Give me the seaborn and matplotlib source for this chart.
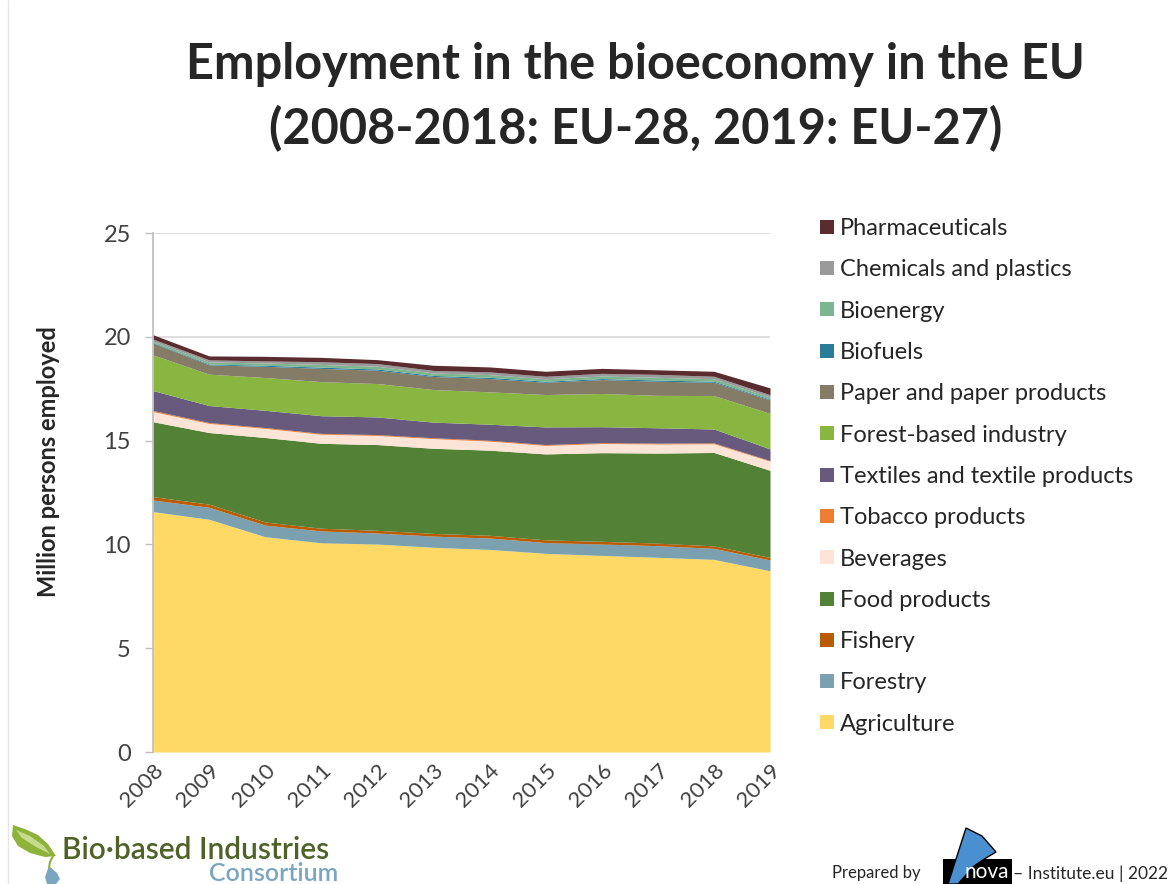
import matplotlib
matplotlib.use("Agg")
import matplotlib.pyplot as plt
from matplotlib.lines import Line2D
from matplotlib.patches import Polygon, Rectangle
import seaborn as sns

# Employment in the EU bioeconomy, million persons per sector
years = list(range(2008, 2020))
agriculture = [11.58, 11.21, 10.37, 10.08, 10.02, 9.86, 9.76, 9.57, 9.47, 9.38, 9.28, 8.73]
forestry = [0.56, 0.58, 0.56, 0.57, 0.53, 0.54, 0.55, 0.52, 0.55, 0.56, 0.53, 0.52]
fishery = [0.16, 0.15, 0.15, 0.13, 0.13, 0.13, 0.13, 0.13, 0.13, 0.12, 0.12, 0.12]
food_products = [3.61, 3.45, 4.07, 4.09, 4.13, 4.10, 4.10, 4.14, 4.27, 4.34, 4.50, 4.20]
beverages = [0.49, 0.44, 0.44, 0.44, 0.44, 0.47, 0.44, 0.41, 0.44, 0.44, 0.42, 0.44]
tobacco = [0.05, 0.04, 0.04, 0.04, 0.04, 0.04, 0.04, 0.04, 0.04, 0.04, 0.04, 0.03]
textiles = [0.96, 0.82, 0.83, 0.85, 0.85, 0.75, 0.77, 0.85, 0.77, 0.74, 0.67, 0.56]
forest_based = [1.72, 1.51, 1.58, 1.64, 1.61, 1.57, 1.56, 1.56, 1.60, 1.56, 1.61, 1.71]
paper = [0.57, 0.45, 0.54, 0.64, 0.64, 0.63, 0.64, 0.59, 0.67, 0.68, 0.64, 0.65]
biofuels = [0.03, 0.04, 0.05, 0.06, 0.06, 0.05, 0.06, 0.05, 0.05, 0.06, 0.05, 0.04]
bioenergy = [0.07, 0.10, 0.11, 0.13, 0.13, 0.12, 0.13, 0.12, 0.12, 0.13, 0.12, 0.10]
chemicals = [0.09, 0.10, 0.10, 0.13, 0.13, 0.12, 0.13, 0.12, 0.13, 0.14, 0.12, 0.11]
pharma = [0.21, 0.19, 0.22, 0.21, 0.19, 0.25, 0.24, 0.24, 0.24, 0.22, 0.24, 0.33]

sectors = ["Agriculture", "Forestry", "Fishery", "Food products", "Beverages",
           "Tobacco products", "Textiles and textile products", "Forest-based industry",
           "Paper and paper products", "Biofuels", "Bioenergy", "Chemicals and plastics",
           "Pharmaceuticals"]
series = [agriculture, forestry, fishery, food_products, beverages, tobacco, textiles,
          forest_based, paper, biofuels, bioenergy, chemicals, pharma]
colors = ["#FFD966", "#7BA0B0", "#B85C00", "#538135", "#FCE4D6", "#ED7D31", "#675A7D",
          "#88B640", "#857C68", "#2A7C99", "#7DB58E", "#9A9A9A", "#5B2C2F"]
y_ticks = [0, 5, 10, 15, 20, 25]

sns.set_theme(style="white")
plt.rcParams["font.family"] = ["Lato", "DejaVu Sans"]

W, H = 1169, 884
fig = plt.figure(figsize=(W / 100, H / 100), dpi=100)
ax = fig.add_axes([0.1309, 0.1493, 0.5278, 0.5871])


def px(points):
    """Pixel positions (from the top-left corner) to figure fractions."""
    return [(x / W, 1 - y / H) for x, y in points]


ax.stackplot(years, *series, colors=colors, labels=sectors, linewidth=0)

ax.set_xlim(2008, 2019)
ax.set_ylim(0, 25)
ax.set_yticks(y_ticks)
ax.set_xticks(years)
ax.set_xticklabels([str(y) for y in years], rotation=45, ha="right",
                   rotation_mode="anchor", fontsize=16, color="#404040")
ax.tick_params(axis="y", labelsize=17, colors="#404040", length=6, width=1,
               color="#BFBFBF", left=True, pad=10)
ax.tick_params(axis="x", length=0, pad=6)
ax.yaxis.grid(True, color="#D9D9D9", linewidth=1.2)
ax.set_axisbelow(True)
for side in ["top", "right", "bottom"]:
    ax.spines[side].set_visible(False)
ax.spines["left"].set_color("#BFBFBF")
ax.set_ylabel("Million persons employed", fontsize=17, fontweight="bold",
              color="#262626")
ax.yaxis.set_label_coords(-0.151, 0.559)

# Legend, top entry first
handles = [Line2D([], [], linestyle="none", marker="s", markersize=9.5,
                  markerfacecolor=c, markeredgewidth=0) for c in colors]
fig.legend(handles[::-1], sectors[::-1], loc="upper left",
           bbox_to_anchor=(0.691, 0.764), frameon=False, fontsize=17,
           labelcolor="#262626", handlelength=0.8, handletextpad=0.15,
           labelspacing=0.86, borderaxespad=0)

fig.text(0.544, 0.927, "Employment in the bioeconomy in the EU", ha="center",
         va="center", fontsize=35, fontweight="bold", color="#262626")
fig.text(0.544, 0.855, "(2008-2018: EU-28, 2019: EU-27)", ha="center",
         va="center", fontsize=35, fontweight="bold", color="#262626")

# Footer: consortium mark and text
leaf = Polygon(px([(13, 825), (25, 829), (38, 835), (48, 844), (56, 856), (45, 857),
                   (30, 853), (18, 846), (12, 836)]),
               closed=True, transform=fig.transFigure, facecolor="#8DB33A",
               edgecolor="none")
vein = Polygon(px([(16, 830), (30, 836), (44, 846), (50, 854), (36, 847), (22, 838)]),
               closed=True, transform=fig.transFigure, facecolor="#C5DB8E",
               edgecolor="none")
stem = Line2D(*zip(*px([(53, 856), (50, 862), (49, 868)])), transform=fig.transFigure,
              color="#8DB33A", linewidth=1.5)
drop = Polygon(px([(49, 866), (57, 873), (60, 879), (56, 884), (47, 884), (45, 877)]),
               closed=True, transform=fig.transFigure, facecolor="#7AA6C2",
               edgecolor="none")
for artist in (leaf, vein, stem, drop):
    fig.add_artist(artist)
fig.text(62 / W, 1 - 859 / H, "Bio·based Industries", ha="left", va="baseline",
         fontsize=21.5, fontweight="semibold", color="#4F6228")
fig.text(338 / W, 1 - 881 / H, "Consortium", ha="right", va="baseline",
         fontsize=18, fontweight="semibold", color="#7AA6C2")

# Footer: preparer
fig.text(0.712, 0.012, "Prepared by", ha="left", va="center", fontsize=12,
         color="#262626")
box = Rectangle((943 / W, 0.0), 69 / W, 25 / H, transform=fig.transFigure,
                facecolor="black", edgecolor="none")
sail = Polygon(px([(948, 884), (966, 828), (982, 836), (996, 852), (986, 858),
                   (974, 866), (958, 884)]),
               closed=True, transform=fig.transFigure, facecolor="#4A90D0",
               edgecolor="black", linewidth=1)
fig.add_artist(box)
fig.add_artist(sail)
fig.text(987 / W, 1 - 872 / H, "nova", ha="center", va="center", fontsize=15,
         color="white")
fig.text(1013 / W, 0.012, "– Institute.eu | 2022", ha="left", va="center",
         fontsize=12.5, color="#262626")

# Thin slide border on the left
fig.add_artist(Line2D([0.007, 0.007], [0.0, 1.0], transform=fig.transFigure,
                      color="#E6E6E6", linewidth=1))

fig.savefig("out.png", dpi=100)
